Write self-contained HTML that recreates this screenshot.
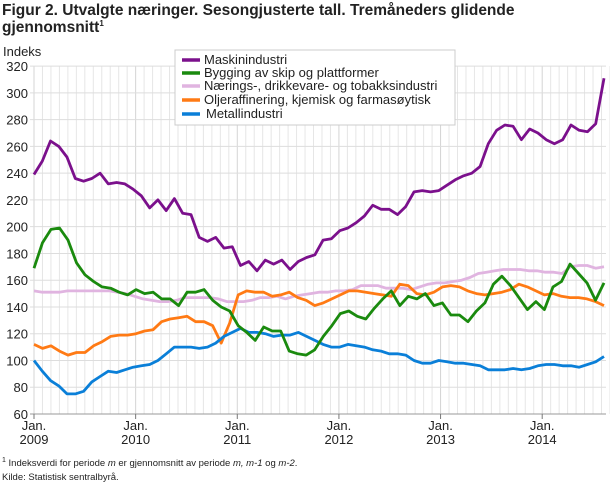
<!DOCTYPE html><html><head><meta charset="utf-8"><style>
body{margin:0;width:610px;height:488px;background:#fff;font-family:"Liberation Sans",sans-serif;overflow:hidden}
svg text{font-family:"Liberation Sans",sans-serif}
</style></head><body>
<svg id="s" width="610" height="488" xmlns="http://www.w3.org/2000/svg">
<text x="2" y="15" font-size="15.5" font-weight="bold" fill="#222">Figur 2. Utvalgte næringer. Sesongjusterte tall. Tremåneders glidende</text>
<text x="2" y="32" font-size="15.5" font-weight="bold" fill="#222">gjennomsnitt<tspan font-size="8" dy="-6">1</tspan></text>
<text x="3" y="56" font-size="13" fill="#222">Indeks</text>
<g id="grid"></g><g id="lines"></g>
<rect x="175" y="50" width="280" height="75" fill="#fff" stroke="#ccc"/>
<g font-size="13" fill="#222">
<line x1="182" y1="60" x2="200" y2="60" stroke="#7b108c" stroke-width="3.5"/><text x="204" y="64">Maskinindustri</text>
<line x1="182" y1="73" x2="200" y2="73" stroke="#1a8a0e" stroke-width="3.5"/><text x="204" y="77">Bygging av skip og plattformer</text>
<line x1="182" y1="86" x2="200" y2="86" stroke="#e0b4e0" stroke-width="3.5"/><text x="204" y="90">Nærings-, drikkevare- og tobakksindustri</text>
<line x1="182" y1="100" x2="200" y2="100" stroke="#ff7a14" stroke-width="3.5"/><text x="204" y="104">Oljeraffinering, kjemisk og farmasøytisk</text>
<line x1="182" y1="114" x2="200" y2="114" stroke="#0a7fd8" stroke-width="3.5"/><text x="206" y="118">Metallindustri</text>
</g>
<text x="2" y="466" font-size="9.5" fill="#222"><tspan font-size="7" dy="-4">1</tspan><tspan dy="4"> Indeksverdi for periode </tspan><tspan font-style="italic">m</tspan> er gjennomsnitt av periode <tspan font-style="italic">m, m-1</tspan> og <tspan font-style="italic">m-2</tspan>.</text>
<text x="2" y="480" font-size="9.5" fill="#222">Kilde: Statistisk sentralbyrå.</text>
</svg>
<script>
const X0=34,DX=8.47,Y=v=>414-(v-60)*1.338;
let g='';
for(let i=0;i<=68;i++){let x=X0+i*DX;g+=`<line x1="${x}" y1="66" x2="${x}" y2="414" stroke="${i%12==0?'#d4d4d4':'#e6e6e6'}" stroke-width="1"/>`;}
for(let v=60;v<=320;v+=20){g+=`<line x1="30" y1="${Y(v)}" x2="606" y2="${Y(v)}" stroke="#ddd"/><text x="28" y="${Y(v)+5}" font-size="13" text-anchor="end" fill="#222">${v}</text>`;}
g+=`<line x1="30" y1="414" x2="606" y2="414" stroke="#999"/>`;
[2009,2010,2011,2012,2013,2014].forEach((y,k)=>{let x=X0+k*12*DX;g+=`<line x1="${x}" y1="414" x2="${x}" y2="419" stroke="#777"/><text x="${x}" y="430" font-size="13" text-anchor="middle" fill="#222">Jan.</text><text x="${x}" y="444" font-size="13" text-anchor="middle" fill="#222">${y}</text>`;});
document.getElementById('grid').innerHTML=g;
const S=[
['#e0b4e0',[152,151,151,151,152,152,152,152,152,152,151,150,148,146,145,144,144,145,147,147,147,147,146,144,144,144,145,147,147,148,146,148,149,150,151,151,152,152,153,156,156,156,154,154,154,153,155,157,158,158,159,160,162,165,166,167,168,168,168,167,167,166,166,165,170,171,171,169,170]],
['#ff7a14',[112,109,111,107,104,106,106,111,114,118,119,119,120,122,123,129,131,132,133,129,129,126,113,117,128,149,152,151,148,149,151,147,145,141,143,146,149,152,152,151,150,149,148,157,156,150,149,151,155,156,155,152,150,149,150,151,153,157,155,152,149,150,148,147,147,146,144,141].map((v,i,a)=>i==23?128:i==24?149:i==25?152:i==26?151:v)],
['#0a7fd8',[100,92,85,81,75,75,77,84,88,92,91,93,95,96,97,100,105,110,110,110,109,110,113,118,121,124,121,121,120,118,119,119,121,118,115,112,110,110,112,111,110,108,107,105,105,104,100,98,98,100,99,98,98,97,96,93,93,93,94,93,94,96,97,97,96,96,95,97,99,103]],
['#1a8a0e',[169,188,198,199,190,173,164,159,155,154,151,149,153,150,151,146,146,141,151,151,153,145,140,137,126,121,115,125,122,122,107,105,104,108,118,126,135,137,133,131,139,146,152,141,148,146,150,141,143,134,134,129,137,143,157,163,156,147,138,144,138,155,159,172,165,158,145,158]],
['#7b108c',[239,249,264,260,252,236,234,236,240,232,233,232,228,223,214,220,212,221,210,209,192,189,192,184,185,171,174,167,175,172,175,168,174,177,179,190,191,197,199,203,208,216,213,213,209,215,226,227,226,227,231,235,238,240,245,262,272,276,275,265,273,270,265,262,265,276,272,271,277,311]]];
let l='';
S.forEach(([c,d])=>{const n=d.length,step=(604-X0)/(n-1);l+=`<polyline fill="none" stroke="${c}" stroke-width="2.8" stroke-linejoin="round" points="${d.map((v,i)=>(X0+i*step).toFixed(1)+','+Y(v).toFixed(1)).join(' ')}"/>`;});
document.getElementById('lines').innerHTML=l;
</script>
</body></html>
